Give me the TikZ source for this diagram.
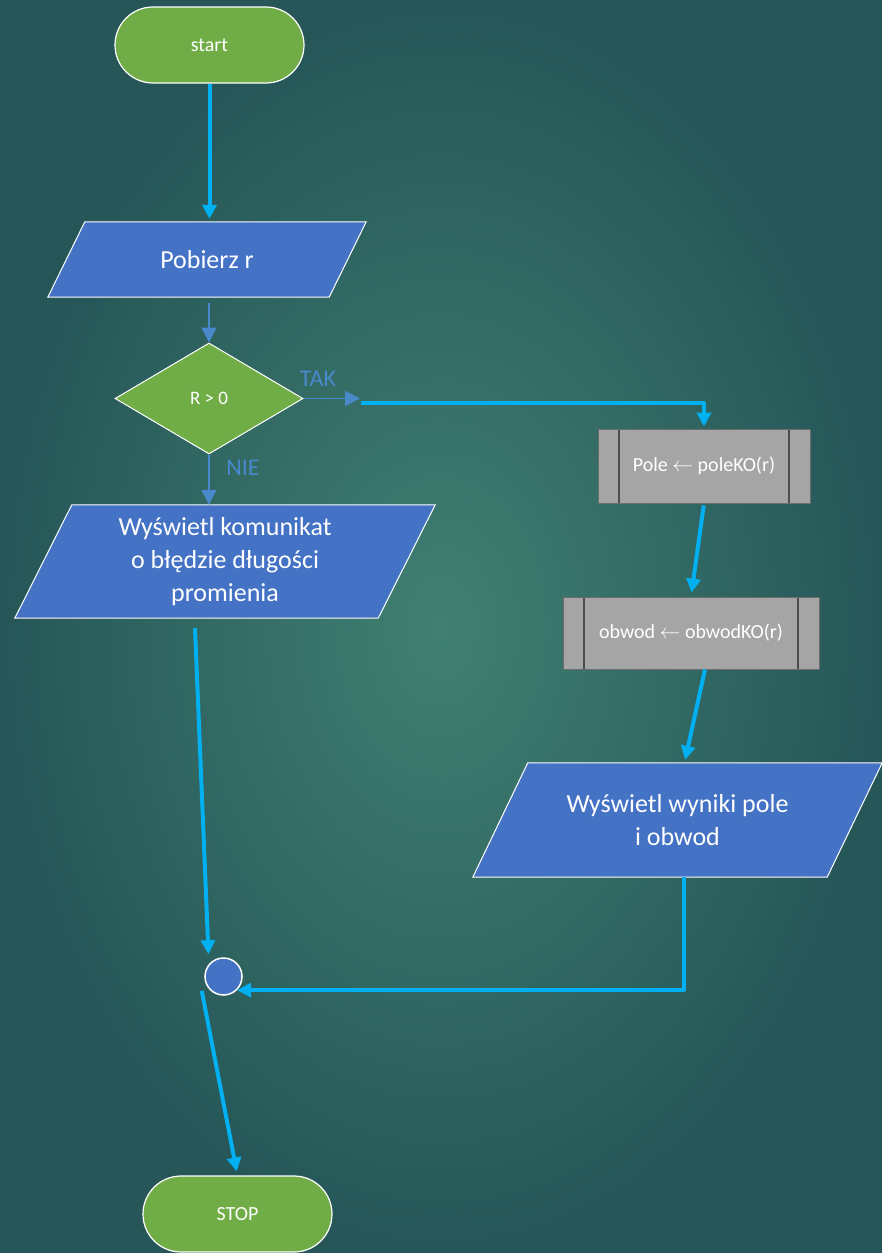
\documentclass[tikz,border=0pt]{standalone}
\usepackage{fontspec}
\setmainfont{Carlito}
\usetikzlibrary{shapes.geometric,arrows.meta,backgrounds}
\definecolor{termgreen}{HTML}{70AD47}
\definecolor{iobl}{HTML}{4472C4}
\definecolor{procgray}{HTML}{A5A5A5}
\definecolor{flowcyan}{HTML}{00B0F0}
\definecolor{thinblue}{RGB}{74,136,204}
\definecolor{bgout}{RGB}{38,86,88}
\definecolor{bgin}{RGB}{64,128,113}

\begin{document}
\begin{tikzpicture}[x=1pt,y=-1pt,
    term/.style={rectangle, rounded corners=38pt, minimum width=189pt, minimum height=76pt,
        fill=termgreen, draw=white, line width=1.2pt, text=white, font=\fontsize{20}{24}\selectfont},
    io/.style={rectangle, inner sep=0pt, text=white, align=center, font=\fontsize{26}{33}\selectfont},
    iobox/.style={fill=iobl, draw=white, line width=1pt},
    dec/.style={diamond, aspect=1.7, inner sep=0pt, minimum width=188pt, minimum height=111pt,
        fill=termgreen, draw=white, line width=1pt, text=white, font=\fontsize{19}{23}\selectfont},
    sub/.style={rectangle, fill=procgray, draw=gray!85!black, line width=0.8pt, text=white,
        font=\fontsize{20}{24}\selectfont,
        path picture={\draw[line width=1.6pt, black!70]
            ([xshift=21pt]path picture bounding box.north west) -- ([xshift=21pt]path picture bounding box.south west)
            ([xshift=-21pt]path picture bounding box.north east) -- ([xshift=-21pt]path picture bounding box.south east);}},
    joint/.style={circle, minimum size=37pt, inner sep=0pt, fill=iobl, draw=white, line width=1.5pt},
    flow/.style={-{Triangle[length=14pt,width=14pt]}, line width=4pt, flowcyan, line join=round},
    thinflow/.style={-{Triangle[length=15pt,width=15pt]}, line width=1.3pt, thinblue},
    lbl/.style={thinblue, font=\fontsize{24}{28}\selectfont}]

    % Background
    \useasboundingbox (0,0) rectangle (882,1253);
    \begin{scope}[on background layer]
        \shade[inner color=bgin, outer color=bgout] (0,0) rectangle (882,1253);
    \end{scope}

    % Blocks
    \node[term] (start) at (209.5,45) {start};
    \node[io, minimum width=318pt, minimum height=75pt] (read) at (207,259.5) {Pobierz r};
    \node[dec] (check) at (209,398.5) {R > 0};
    \node[io, minimum width=420pt, minimum height=113pt] (err) at (225,561.5)
        {Wyświetl komunikat\\o błędzie długości\\promienia};
    \node[sub, minimum width=212pt, minimum height=74pt] (area) at (704,466) {Pole $\leftarrow$ poleKO(r)};
    \node[sub, minimum width=256pt, minimum height=72pt] (circ) at (691,633) {obwod $\leftarrow$ obwodKO(r)};
    \node[io, minimum width=409pt, minimum height=114pt] (out) at (677.5,820)
        {Wyświetl wyniki pole\\i obwod};
    \node[joint] (join) at (223.5,976.5) {};
    \node[term] (stop) at (237.5,1214) {STOP};

    % Parallelograms behind the io texts
    \begin{scope}[on background layer]
        \foreach \n/\s in {read/37, err/57, out/55}
            \filldraw[iobox] ([xshift=\s pt]\n.north west) -- (\n.north east)
                -- ([xshift=-\s pt]\n.south east) -- (\n.south west) -- cycle;
    \end{scope}

    % Branch labels
    \node[lbl] (tak) at (318,379) {TAK};
    \node[lbl] (nie) at (243,468) {NIE};
    \coordinate (takend) at (360,398.5);
    \coordinate (takstart) at (361,403);

    % Connectors
    \draw[flow, shorten >=3pt] (start.south) -- (read.north -| start.south);
    \draw[thinflow, shorten <=6pt] (check.north |- read.south) -- (check.north);
    \draw[thinflow] (check.east) -- (takend);
    \draw[thinflow] (check.south) -- (check.south |- err.north);
    \draw[flow, shorten >=2pt] (takstart) -| (area.north);
    \draw[flow, shorten <=2pt, shorten >=4pt] (area.south) -- (circ.north);
    \draw[flow, shorten >=3pt] ([xshift=14pt]circ.south) -- ([xshift=7pt]out.north);
    \draw[flow] ([xshift=6.5pt]out.south) |- (join.-45);
    \draw[flow] ([xshift=-30pt,yshift=-10pt]err.south) -- ([xshift=-15pt,yshift=3pt]join.north);
    \draw[flow, shorten >=4pt] ([xshift=-7pt,yshift=-2pt]join.220) -- (stop.north);

\end{tikzpicture}
\end{document}
